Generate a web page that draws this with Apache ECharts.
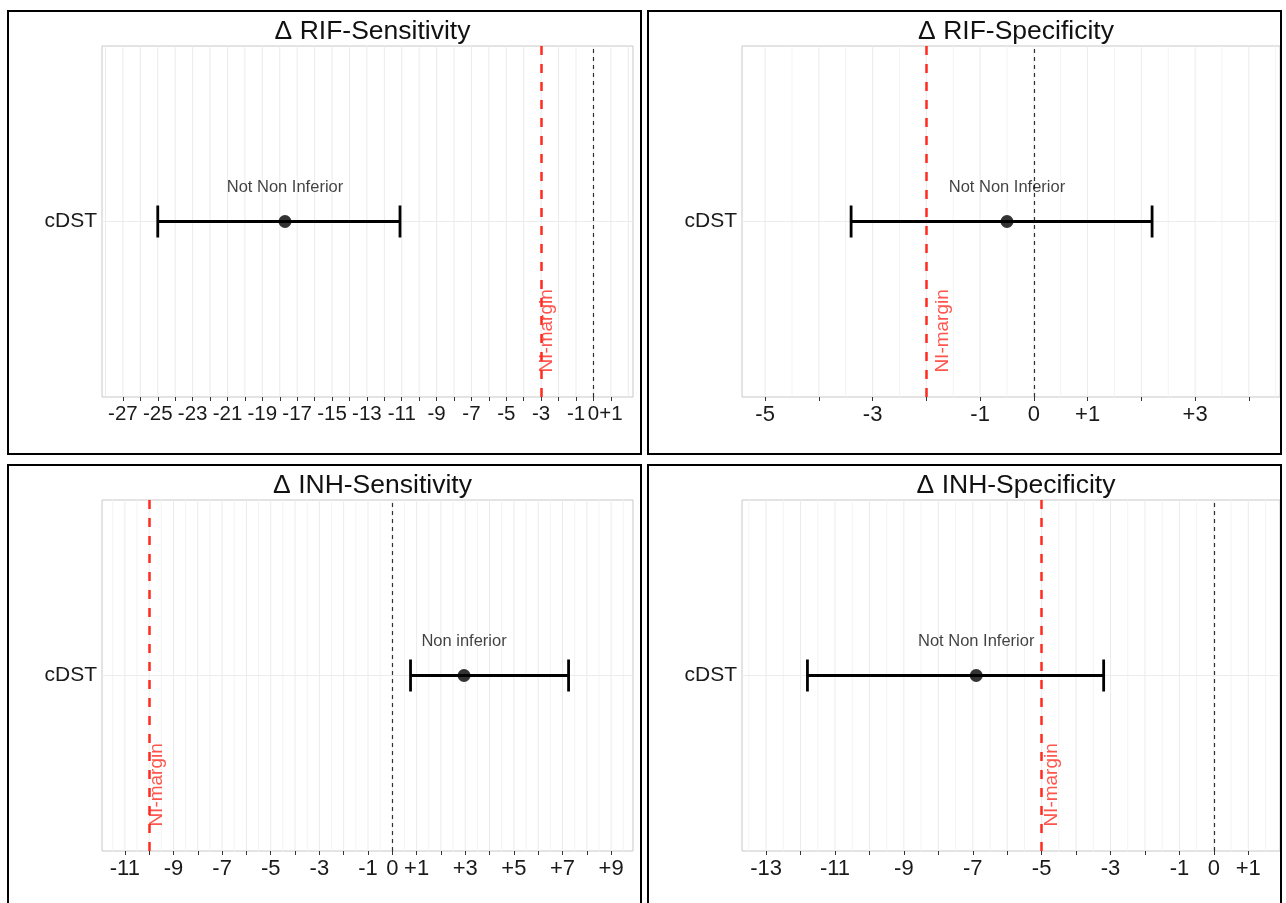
<!DOCTYPE html>
<html>
<head>
<meta charset="utf-8">
<script src="https://cdn.jsdelivr.net/npm/echarts@6/dist/echarts.min.js"></script>
<style>
  html, body { margin: 0; padding: 0; background: #fff; }
  #chart { width: 1286px; height: 903px; }
</style>
</head>
<body>
<div id="chart"></div>
<script>
// values
const panelTitles = ['Δ RIF-Sensitivity', 'Δ RIF-Specificity', 'Δ INH-Sensitivity', 'Δ INH-Specificity'];
const category = ['cDST'];
const estimate = [-17.7, -0.5, 2.95, -6.9];
const lowerCI = [-25.0, -3.4, 0.75, -11.8];
const upperCI = [-11.1, 2.2, 7.25, -3.2];
const niMargin = [-3, -2, -10, -5];
const verdict = ['Not Non Inferior', 'Not Non Inferior', 'Non inferior', 'Not Non Inferior'];

const axisMin = [-28.2, -5.43, -11.94, -13.7];
const axisMax = [2.27, 4.58, 9.9, 1.92];
const tickValues = [
  [-27, -26, -25, -24, -23, -22, -21, -20, -19, -18, -17, -16, -15, -14, -13, -12, -11, -10, -9, -8, -7, -6, -5, -4, -3, -2, -1, 0, 1],
  [-5, -4, -3, -2, -1, 0, 1, 2, 3, 4],
  [-11, -10, -9, -8, -7, -6, -5, -4, -3, -2, -1, 0, 1, 2, 3, 4, 5, 6, 7, 8, 9],
  [-13, -12, -11, -10, -9, -8, -7, -6, -5, -4, -3, -2, -1, 0, 1]
];
const labelValues = [
  [-27, -25, -23, -21, -19, -17, -15, -13, -11, -9, -7, -5, -3, -1, 0, 1],
  [-5, -3, -1, 0, 1, 3],
  [-11, -9, -7, -5, -3, -1, 0, 1, 3, 5, 7, 9],
  [-13, -11, -9, -7, -5, -3, -1, 0, 1]
];

// layout (pixels)
const grids = [
  { left: 102, top: 46, width: 531, height: 351 },
  { left: 742, top: 46, width: 538, height: 351 },
  { left: 102, top: 500, width: 531, height: 351 },
  { left: 742, top: 500, width: 538, height: 351 }
];
const frames = [
  { x: 8, y: 11, width: 633, height: 443 },
  { x: 648, y: 11, width: 633, height: 443 },
  { x: 8, y: 465, width: 633, height: 445 },
  { x: 648, y: 465, width: 633, height: 445 }
];
const gridStep = [1, 0.5, 0.5, 0.5];
// the first panel's labels are packed tight; a hair smaller keeps "-1" and "0" both visible
const tickFontSize = [20.5, 22, 22, 22];

const FONT = '"Liberation Sans", Arial, Helvetica, sans-serif';
const RED = '#ff2b1f';

const chart = echarts.init(document.getElementById('chart'));

function fmt(v) {
  return v > 0 ? '+' + v : String(v);
}

function gridLines(i) {
  const out = [];
  const step = gridStep[i];
  for (let v = Math.ceil(axisMin[i] / step) * step; v <= axisMax[i]; v += step) {
    const major = Number.isInteger(v) ? 1 : 0;
    out.push([v, 1, major]);
  }
  return out;
}

const xAxis = [], yAxis = [], series = [], title = [];

panelTitles.forEach((t, i) => {
  const g = grids[i];
  title.push({
    text: t,
    left: g.left + g.width / 2,
    top: g.top - 33,
    textAlign: 'center',
    textStyle: { fontFamily: FONT, fontSize: 26.5, fontWeight: 'normal', color: '#111' }
  });

  xAxis.push({
    type: 'value',
    gridIndex: i,
    min: axisMin[i],
    max: axisMax[i],
    axisLine: { show: false },
    axisTick: { show: true, length: 4, customValues: tickValues[i], lineStyle: { color: '#333' } },
    axisLabel: {
      customValues: labelValues[i],
      formatter: fmt,
      margin: 7,
      showMinLabel: true,
      showMaxLabel: true,
      hideOverlap: false,
      fontFamily: FONT, fontSize: tickFontSize[i], color: '#1a1a1a'
    },
    splitLine: { show: false }
  });

  yAxis.push({
    type: 'value',
    gridIndex: i,
    min: 0.4,
    max: 1.6,
    axisLine: { show: false },
    axisTick: { show: true, length: 4, customValues: [1], lineStyle: { color: '#333' } },
    axisLabel: {
      customValues: [1],
      formatter: () => category[0],
      margin: 5,
      fontFamily: FONT, fontSize: 21, color: '#1a1a1a'
    },
    splitLine: { show: false }
  });

  // background grid lines
  series.push({
    type: 'custom',
    xAxisIndex: i, yAxisIndex: i,
    silent: true,
    z: 1,
    data: gridLines(i),
    encode: { x: 0, y: 1 },
    renderItem: (params, api) => {
      const cs = params.coordSys;
      const x = api.coord([api.value(0), 1])[0];
      return {
        type: 'line',
        shape: { x1: x, y1: cs.y, x2: x, y2: cs.y + cs.height },
        style: { stroke: api.value(2) ? '#ebebeb' : '#f3f3f3', lineWidth: 1 }
      };
    }
  });

  // reference lines: horizontal at category, zero, NI margin
  series.push({
    type: 'line',
    xAxisIndex: i, yAxisIndex: i,
    data: [],
    silent: true,
    z: 2,
    markLine: {
      silent: true,
      symbol: 'none',
      label: { show: false },
      animation: false,
      data: [
        { yAxis: 1, lineStyle: { color: '#ececec', width: 1, type: 'solid' } },
        { xAxis: 0, lineStyle: { color: '#333', width: 1.2, type: [4, 4] } },
        { xAxis: niMargin[i], lineStyle: { color: RED, width: 2.5, type: [9, 9] } }
      ]
    }
  });

  // error bar
  series.push({
    type: 'custom',
    xAxisIndex: i, yAxisIndex: i,
    z: 5,
    data: [[lowerCI[i], upperCI[i], 1]],
    encode: { x: [0, 1], y: 2 },
    renderItem: (params, api) => {
      const lo = api.coord([api.value(0), api.value(2)]);
      const hi = api.coord([api.value(1), api.value(2)]);
      const half = 16;
      const st = { stroke: '#000', lineWidth: 2.8 };
      return {
        type: 'group',
        children: [
          { type: 'line', shape: { x1: lo[0], y1: lo[1], x2: hi[0], y2: hi[1] }, style: st },
          { type: 'line', shape: { x1: lo[0], y1: lo[1] - half, x2: lo[0], y2: lo[1] + half }, style: st },
          { type: 'line', shape: { x1: hi[0], y1: hi[1] - half, x2: hi[0], y2: hi[1] + half }, style: st }
        ]
      };
    }
  });

  // point estimate
  series.push({
    type: 'scatter',
    xAxisIndex: i, yAxisIndex: i,
    z: 6,
    symbolSize: 13,
    itemStyle: { color: '#000' },
    data: [[estimate[i], 1]]
  });

  // verdict text above the point
  series.push({
    type: 'scatter',
    xAxisIndex: i, yAxisIndex: i,
    z: 6,
    symbolSize: 0,
    silent: true,
    data: [[estimate[i], 1.115]],
    label: {
      show: true,
      position: 'inside',
      formatter: verdict[i],
      fontFamily: FONT, fontSize: 16.5, color: '#111'
    }
  });

  // NI-margin text, vertical, just right of the margin line
  series.push({
    type: 'scatter',
    xAxisIndex: i, yAxisIndex: i,
    z: 4,
    symbolSize: 0,
    silent: true,
    data: [[niMargin[i] + 0.3, 0.626]],
    label: {
      show: true,
      position: 'inside',
      rotate: 90,
      formatter: 'NI-margin',
      fontFamily: FONT, fontSize: 19, color: RED
    }
  });
});

chart.setOption({
  animation: false,
  backgroundColor: '#fff',
  title: title,
  grid: grids.map(g => Object.assign({ show: true, borderColor: '#c8c8c8', borderWidth: 1, backgroundColor: '#fff' }, g)),
  xAxis: xAxis,
  yAxis: yAxis,
  series: series,
  graphic: frames.map(f => ({
    type: 'rect',
    shape: f,
    silent: true,
    z: 100,
    style: { fill: 'none', stroke: '#000', lineWidth: 2 }
  }))
});
</script>
</body>
</html>
